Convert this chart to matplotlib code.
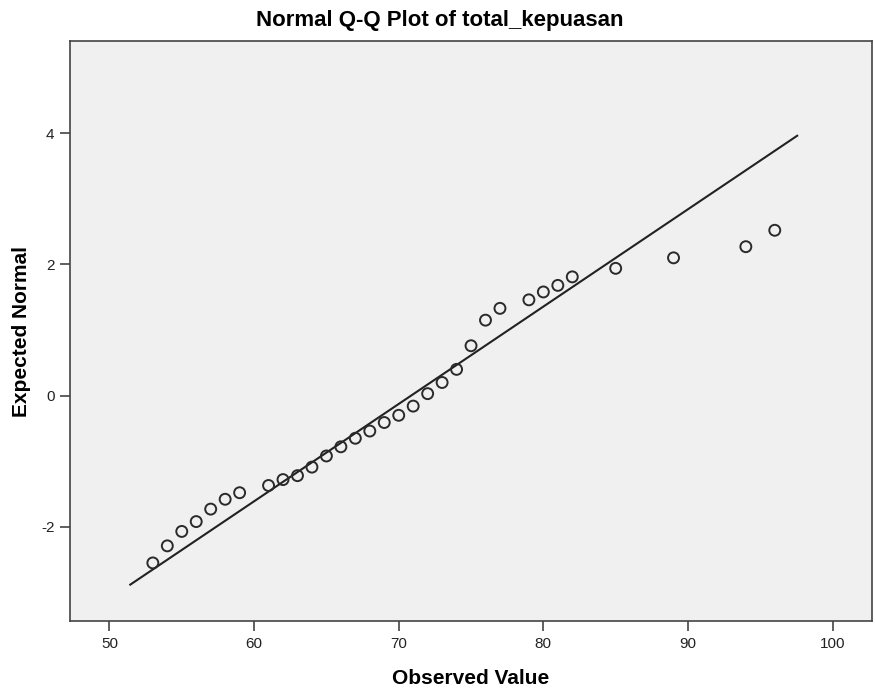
import matplotlib
matplotlib.use("Agg")
import matplotlib.pyplot as plt

observed = [53, 54, 55, 56, 57, 58, 59, 61, 62, 63, 64, 65, 66, 67, 68, 69,
            70, 71, 72, 73, 74, 75, 76, 77, 79, 80, 81, 82, 85, 89, 94, 96]
expected = [-2.55, -2.29, -2.07, -1.92, -1.73, -1.58, -1.48, -1.37, -1.28, -1.22,
            -1.09, -0.92, -0.78, -0.65, -0.54, -0.41, -0.30, -0.16, 0.03, 0.20,
            0.40, 0.76, 1.15, 1.33, 1.46, 1.58, 1.68, 1.81, 1.94, 2.10, 2.27, 2.52]

# Reference line endpoints
line_x = [51.38, 97.61]
line_y = [-2.89, 3.97]

x_ticks = [50, 60, 70, 80, 90, 100]
y_ticks = [-2, 0, 2, 4]

title = "Normal Q-Q Plot of total_kepuasan"
xlabel = "Observed Value"
ylabel = "Expected Normal"

plt.rcParams['font.family'] = ['Liberation Sans', 'DejaVu Sans']

fig = plt.figure(figsize=(8.75, 6.97), dpi=100)
fig.patch.set_facecolor('white')
ax = fig.add_axes([0.0798, 0.1086, 0.9164, 0.8321])
ax.set_facecolor('#f0f0f0')

ax.plot(line_x, line_y, color='#222222', lw=1.5, zorder=2, solid_capstyle='butt')
ax.scatter(observed, expected, s=62, facecolors='none', edgecolors='#2a2a2a',
           linewidths=1.4, zorder=3)

ax.set_xlim(47.26, 102.7)
ax.set_ylim(-3.44, 5.40)
ax.set_xticks(x_ticks)
ax.set_yticks(y_ticks)
ax.set_xticklabels([str(v) for v in x_ticks])
ax.set_yticklabels([str(v) for v in y_ticks])

for s in ax.spines.values():
    s.set_color('#444444')
    s.set_linewidth(1.2)
ax.tick_params(axis='both', direction='out', length=7, width=1.2, color='#444444',
               labelsize=11, labelcolor='#222222', pad=4)

ax.set_xlabel(xlabel, fontsize=15, fontweight='bold', labelpad=13)
ax.set_ylabel(ylabel, fontsize=15, fontweight='bold', labelpad=7)
fig.text(0.502, 0.971, title, ha='center', va='center', fontsize=16, fontweight='bold')

fig.savefig('out.png', dpi=100)
